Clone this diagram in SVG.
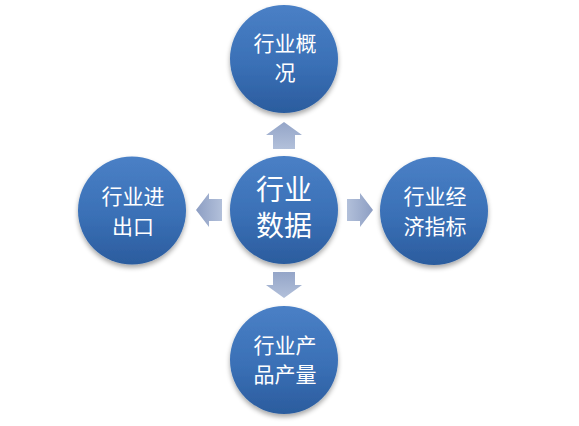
<svg xmlns="http://www.w3.org/2000/svg" width="579" height="426" viewBox="0 0 579 426">
<defs>
<linearGradient id="ballFill" x1="0" y1="0" x2="0" y2="1">
<stop offset="0" stop-color="#4a80c6"/>
<stop offset="0.55" stop-color="#3a70b6"/>
<stop offset="1" stop-color="#2b5c9e"/>
</linearGradient>
<linearGradient id="arrowV" x1="0" y1="0" x2="0" y2="1">
<stop offset="0" stop-color="#94a5c8"/>
<stop offset="1" stop-color="#b2c0da"/>
</linearGradient>
<linearGradient id="arrowH" x1="0" y1="0" x2="1" y2="0">
<stop offset="0" stop-color="#b2c0da"/>
<stop offset="1" stop-color="#8d9ec3"/>
</linearGradient>
<linearGradient id="arrowHL" x1="1" y1="0" x2="0" y2="0">
<stop offset="0" stop-color="#b2c0da"/>
<stop offset="1" stop-color="#8d9ec3"/>
</linearGradient>
<filter id="shadow" x="-20%" y="-20%" width="140%" height="150%">
<feGaussianBlur in="SourceAlpha" stdDeviation="2.5"/>
<feOffset dy="3" result="b"/>
<feComponentTransfer><feFuncA type="linear" slope="0.35"/></feComponentTransfer>
<feMerge><feMergeNode/><feMergeNode in="SourceGraphic"/></feMerge>
</filter>
</defs>
<style>
.ball{fill:url(#ballFill);filter:url(#shadow);}
.t{font-family:"Liberation Sans","Noto Sans CJK SC",sans-serif;fill:#ffffff;text-anchor:middle;font-size:21px;}
.tc{font-size:28px;}
</style>
<rect width="579" height="426" fill="#ffffff"/>
<g id="connectors">
<polygon id="arrow-up" fill="url(#arrowV)" points="284,122 302,135 295,135 295,149 273,149 273,135 266,135"/>
<polygon id="arrow-down" fill="url(#arrowV)" points="284,298 302,285 295,285 295,272 273,272 273,285 266,285"/>
<polygon id="arrow-right" fill="url(#arrowH)" points="373,210 360,193 360,199 347,199 347,221 360,221 360,227"/>
<polygon id="arrow-left" fill="url(#arrowHL)" points="196,210 209,193 209,199 222,199 222,221 209,221 209,227"/>
</g>
<g id="node-center">
<circle class="ball" cx="284" cy="210" r="54"/>
<text class="t tc" x="284" y="200">行业</text>
<text class="t tc" x="284" y="236">数据</text>
</g>
<g id="node-top">
<circle class="ball" cx="284" cy="59" r="54"/>
<text class="t" x="285" y="51">行业概</text>
<text class="t" x="285" y="80">况</text>
</g>
<g id="node-left">
<circle class="ball" cx="132" cy="210.5" r="54"/>
<text class="t" x="133" y="204">行业进</text>
<text class="t" x="133" y="234">出口</text>
</g>
<g id="node-right">
<circle class="ball" cx="434" cy="211" r="54"/>
<text class="t" x="435" y="204">行业经</text>
<text class="t" x="435" y="234">济指标</text>
</g>
<g id="node-bottom">
<circle class="ball" cx="284" cy="360" r="54"/>
<text class="t" x="285" y="353">行业产</text>
<text class="t" x="285" y="382">品产量</text>
</g>
</svg>
